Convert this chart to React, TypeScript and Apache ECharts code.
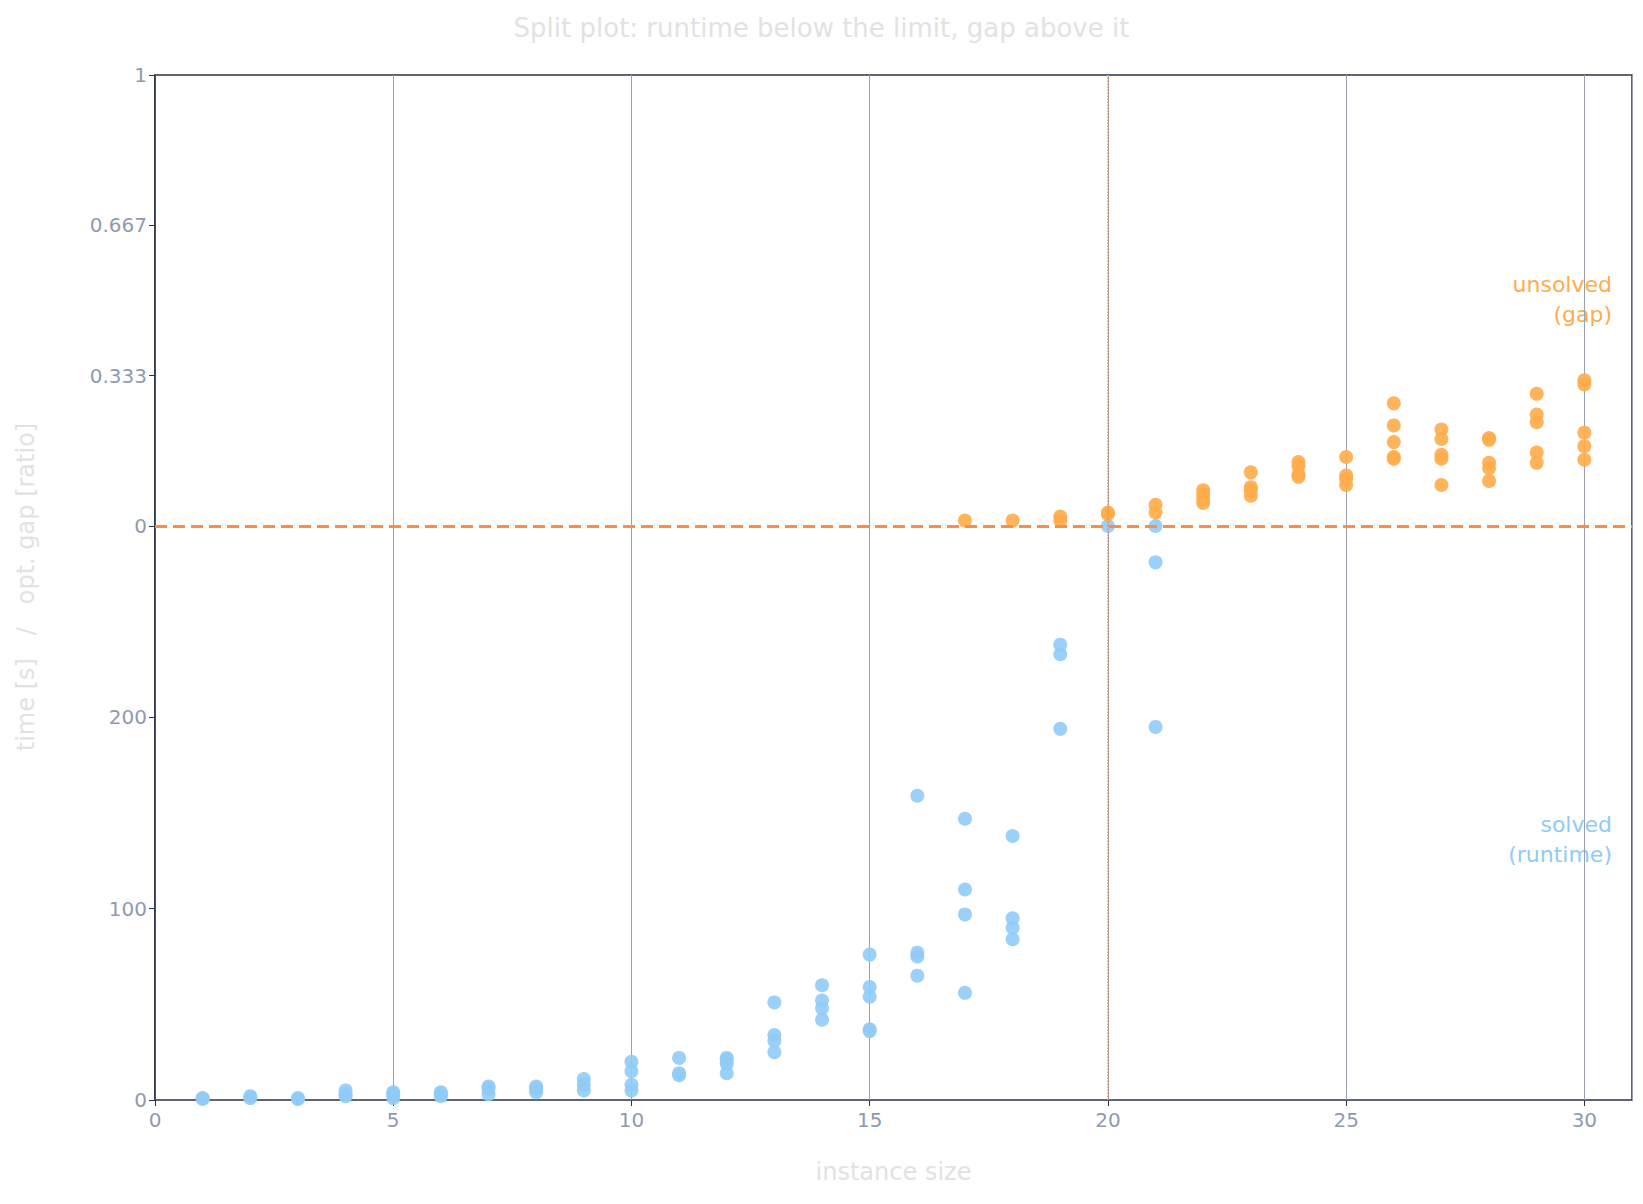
import React, { useEffect, useRef } from "react";
import * as echarts from "echarts";

// solved instances: [size, runtime s]
const solved: number[][] = [
  [1, 1], [1, 0.5], [2, 1], [2, 2], [3, 1], [3, 0.5], [4, 2], [4, 3], [4, 5],
  [5, 1], [5, 3], [5, 4], [6, 2], [6, 3], [6, 4], [7, 3], [7, 6], [7, 7],
  [8, 4], [8, 6], [8, 7], [9, 5], [9, 8], [9, 11], [10, 5], [10, 8], [10, 15], [10, 20],
  [11, 13], [11, 14], [11, 22], [12, 14], [12, 19], [12, 21], [12, 22],
  [13, 25], [13, 31], [13, 34], [13, 51], [14, 42], [14, 48], [14, 52], [14, 60],
  [15, 36], [15, 37], [15, 54], [15, 59], [15, 76], [16, 65], [16, 75], [16, 77], [16, 159],
  [17, 56], [17, 97], [17, 110], [17, 147], [18, 84], [18, 90], [18, 95], [18, 138],
  [19, 194], [19, 233], [19, 238], [20, 300], [21, 195], [21, 281], [21, 300],
];

// unsolved instances: [size, optimality gap ratio]
const unsolved: number[][] = [
  [17, 0.012], [18, 0.012], [19, 0.021], [19, 0.012], [20, 0.03], [20, 0.026],
  [21, 0.047], [21, 0.03], [22, 0.079], [22, 0.07], [22, 0.06], [22, 0.051],
  [23, 0.119], [23, 0.086], [23, 0.079], [23, 0.067],
  [24, 0.142], [24, 0.133], [24, 0.114], [24, 0.109],
  [25, 0.153], [25, 0.112], [25, 0.105], [25, 0.091],
  [26, 0.272], [26, 0.223], [26, 0.186], [26, 0.153], [26, 0.149],
  [27, 0.214], [27, 0.193], [27, 0.158], [27, 0.149], [27, 0.091],
  [28, 0.195], [28, 0.191], [28, 0.14], [28, 0.128], [28, 0.1],
  [29, 0.293], [29, 0.247], [29, 0.23], [29, 0.163], [29, 0.14],
  [30, 0.323], [30, 0.314], [30, 0.207], [30, 0.177], [30, 0.147],
];

const TIME_LIMIT = 300;
const SPLIT_X = 20;
const BLUE = "#90cbf7";
const ORANGE = "#ffac4a";
const LABEL = "#8f9ab0";
const FRAME = "#2b3344";
const FONT = "DejaVu Sans";

const LEFT = 155;
const RIGHT = 11;
const TOP = 75;
const MID = 526;
const BOTTOM = 1100;

const App: React.FC = () => {
  const ref = useRef<HTMLDivElement>(null);

  useEffect(() => {
    if (!ref.current) return;
    const chart = echarts.init(ref.current, undefined, { renderer: "svg" });
    const xBase = {
      type: "value" as const, min: 0, max: 31, interval: 5,
      splitLine: { show: true, lineStyle: { color: "#9aa0ad", width: 1 } },
      axisLine: { show: false }, axisTick: { show: false },
    };
    const yBase = {
      type: "value" as const,
      splitLine: { show: false },
      axisLine: { show: true, lineStyle: { color: FRAME, width: 1.5 } },
      axisTick: { show: true, length: 6, lineStyle: { color: FRAME } },
    };
    chart.setOption({
      animation: false,
      textStyle: { fontFamily: FONT },
      title: {
        text: "Split plot: runtime below the limit, gap above it",
        left: "center", top: 10,
        textStyle: { color: "#e2e2e2", fontSize: 26, fontWeight: "normal", fontFamily: FONT },
      },
      grid: [
        { left: LEFT, right: RIGHT, top: MID, height: BOTTOM - MID },
        { left: LEFT, right: RIGHT, top: TOP, height: MID - TOP },
      ],
      xAxis: [
        {
          ...xBase, gridIndex: 0,
          axisTick: { show: true, length: 6, lineStyle: { color: FRAME } },
          axisLabel: { color: LABEL, fontSize: 20, margin: 10, showMaxLabel: false },
          name: "instance size", nameLocation: "middle", nameGap: 60,
          nameTextStyle: { color: "#e2e2e2", fontSize: 24 },
        },
        { ...xBase, gridIndex: 1, axisLabel: { show: false } },
      ],
      yAxis: [
        {
          ...yBase, gridIndex: 0, min: 0, max: TIME_LIMIT, interval: 100,
          axisLabel: { color: LABEL, fontSize: 20, showMaxLabel: false },
        },
        {
          ...yBase, gridIndex: 1, min: 0, max: 1, interval: 1 / 3,
          axisLabel: {
            color: LABEL, fontSize: 20,
            formatter: (v: number) => (v === 0 ? "0" : v > 0.99 ? "1" : v.toFixed(3)),
          },
        },
      ],
      graphic: [
        {
          type: "rect", z: -1, silent: true,
          shape: { x: LEFT, y: TOP, width: 1643 - RIGHT - LEFT, height: BOTTOM - TOP },
          style: { fill: "none", stroke: FRAME, lineWidth: 1.5 },
        },
        {
          type: "text", x: 26, y: 587, rotation: Math.PI / 2,
          style: {
            text: "time [s]   /   opt. gap [ratio]", fill: "#e2e2e2",
            font: `24px ${FONT}`, align: "center", verticalAlign: "middle",
          },
        },
        {
          type: "text", x: 1612, y: 269,
          style: { text: "unsolved\n(gap)", fill: ORANGE, font: `22px ${FONT}`, align: "right", lineHeight: 30 },
        },
        {
          type: "text", x: 1612, y: 809,
          style: { text: "solved\n(runtime)", fill: BLUE, font: `22px ${FONT}`, align: "right", lineHeight: 30 },
        },
      ],
      series: [
        {
          type: "scatter", xAxisIndex: 0, yAxisIndex: 0, data: solved,
          symbolSize: 14, itemStyle: { color: BLUE, opacity: 0.9 },
          markLine: {
            silent: true, symbol: "none", label: { show: false },
            lineStyle: { color: "#f08a4b", type: "dotted", width: 1.5 },
            data: [{ xAxis: SPLIT_X }],
          },
        },
        {
          type: "scatter", xAxisIndex: 1, yAxisIndex: 1, data: unsolved,
          symbolSize: 14, itemStyle: { color: ORANGE, opacity: 0.9 },
          markLine: {
            silent: true, symbol: "none", label: { show: false },
            data: [
              { xAxis: SPLIT_X, lineStyle: { color: "#f08a4b", type: "dotted", width: 1.5 } },
              { yAxis: 0, lineStyle: { color: "#ff8c42", type: [12, 6], width: 3 } },
            ],
          },
        },
      ],
    });
    return () => chart.dispose();
  }, []);

  return (
    <div
      ref={ref}
      style={{ position: "fixed", left: 0, top: 0, width: 1643, height: 1204, background: "#fff" }}
    />
  );
};

export default App;
